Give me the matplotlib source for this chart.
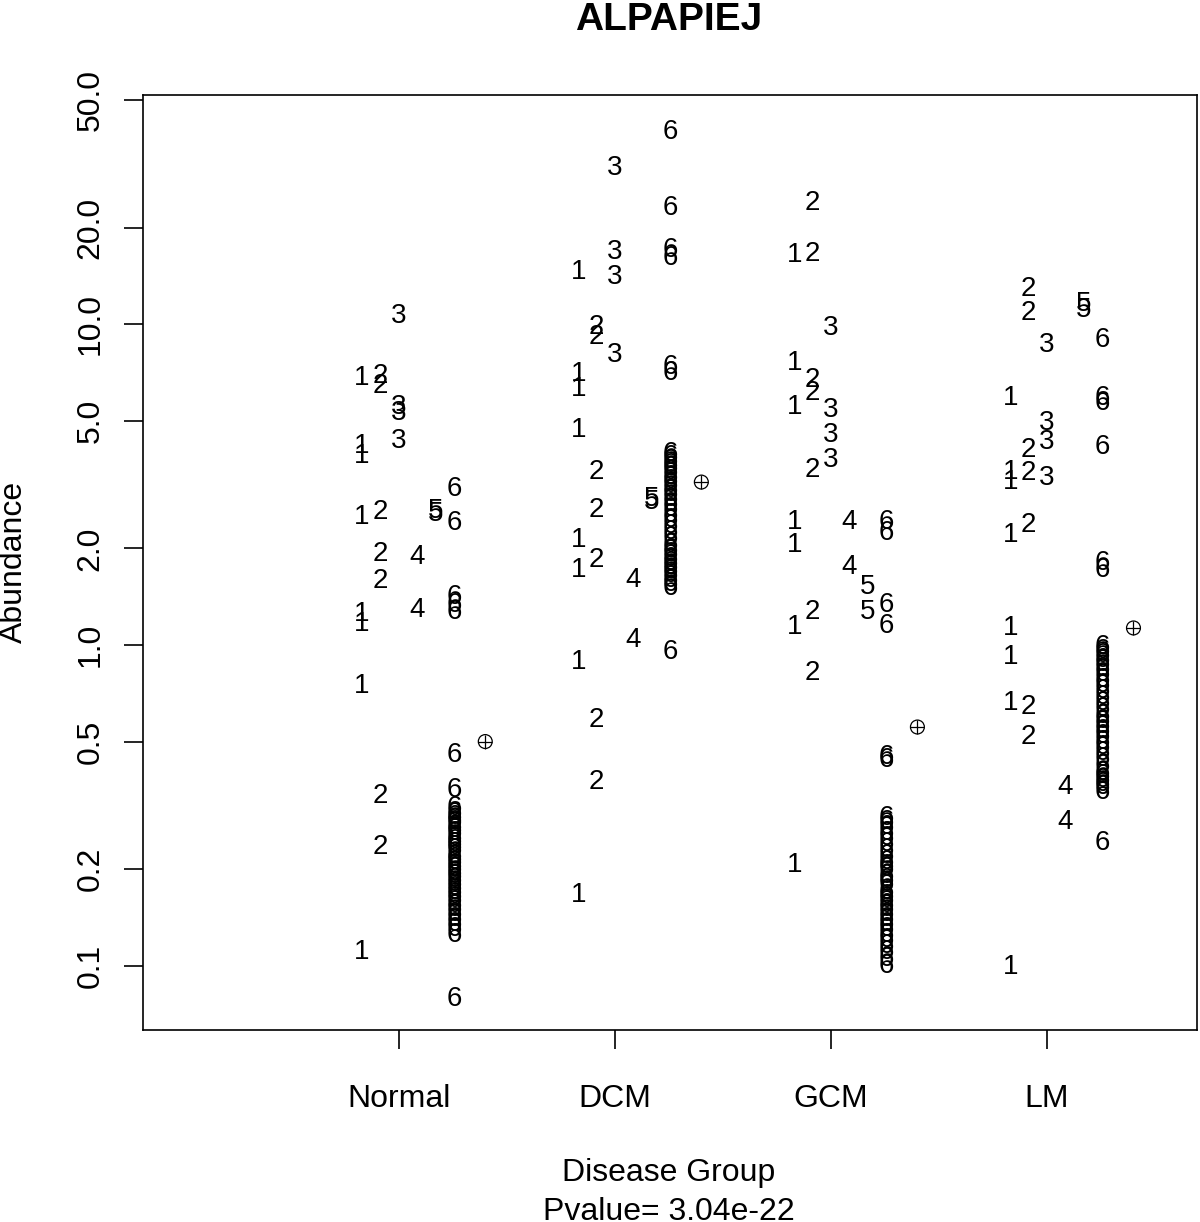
import matplotlib
matplotlib.use("Agg")
import matplotlib.pyplot as plt

plt.rcParams['font.family'] = ['Liberation Sans', 'DejaVu Sans']

groups = ["Normal", "DCM", "GCM", "LM"]

# abundance values per group, one list per label 1..6
normal = [
    [6.79, 4.17, 3.88, 2.50, 1.25, 1.16, 0.745, 0.11],
    [6.88, 6.41, 2.60, 1.92, 1.58, 0.339, 0.235],
    [10.6, 5.51, 5.28, 4.32],
    [1.88, 1.29],
    [2.61, 2.56],
    [3.06, 2.40, 1.41, 1.33, 1.27, 0.454, 0.353,
     0.31, 0.30, 0.29, 0.285, 0.28, 0.27, 0.265, 0.26, 0.25, 0.245, 0.24,
     0.235, 0.23, 0.22, 0.215, 0.21, 0.205, 0.20, 0.195, 0.19, 0.185, 0.18,
     0.175, 0.17, 0.165, 0.16, 0.155, 0.15, 0.145, 0.14, 0.135, 0.13, 0.125,
     0.079],
]
dcm = [
    [14.5, 7.0, 6.3, 4.67, 2.12, 1.71, 0.885, 0.166],
    [9.79, 9.12, 3.46, 2.63, 1.84, 0.584, 0.374],
    [30.6, 16.8, 14.0, 8.0],
    [1.59, 1.04],
    [2.85, 2.80],
    [39.6, 23.1, 17.0, 16.1, 7.35, 7.03,
     3.95, 3.85, 3.75, 3.65, 3.55, 3.45, 3.35, 3.25, 3.15, 3.05, 2.95, 2.85,
     2.75, 2.65, 2.55, 2.45, 2.35, 2.25, 2.15, 2.05, 1.98, 1.92, 1.86, 1.80,
     1.75, 1.70, 1.65, 1.60, 1.55, 1.51, 0.95],
]
gcm = [
    [16.4, 7.56, 5.51, 2.42, 2.05, 1.14, 0.206],
    [23.8, 16.6, 6.69, 6.10, 3.51, 1.27, 0.818],
    [9.72, 5.40, 4.51, 3.77],
    [2.42, 1.75],
    [1.52, 1.27],
    [2.42, 2.23, 1.33, 1.15, 0.448, 0.438,
     0.289, 0.28, 0.27, 0.26, 0.25, 0.24, 0.23, 0.22, 0.21, 0.205, 0.20,
     0.19, 0.185, 0.18, 0.17, 0.165, 0.16, 0.155, 0.15, 0.145, 0.14, 0.135,
     0.13, 0.125, 0.12, 0.115, 0.11, 0.105, 0.10],
]
lm = [
    [5.88, 3.46, 3.22, 2.20, 1.13, 0.918, 0.659, 0.099],
    [12.9, 10.8, 4.05, 3.43, 2.36, 0.641, 0.517],
    [8.6, 4.92, 4.29, 3.31],
    [0.361, 0.281],
    [11.6, 11.1],
    [8.91, 5.88, 5.67, 4.14, 1.80, 1.71,
     0.986, 0.96, 0.93, 0.90, 0.87, 0.84, 0.81, 0.78, 0.75, 0.72, 0.69,
     0.66, 0.63, 0.60, 0.58, 0.56, 0.54, 0.52, 0.50, 0.48, 0.46, 0.44,
     0.42, 0.40, 0.39, 0.38, 0.37, 0.36, 0.348, 0.242],
]
group_means = [0.50, 3.22, 0.555, 1.13]
pvalue = "3.04e-22"

yticks = [0.1, 0.2, 0.5, 1, 2, 5, 10, 20, 50]
ytick_labels = ["0.1", "0.2", "0.5", "1.0", "2.0", "5.0", "10.0", "20.0", "50.0"]

fig = plt.figure(figsize=(12, 12.22), dpi=100)
ax = fig.add_axes([0.119, 0.157, 0.8785, 0.765])

step = 0.085
for gi, series in enumerate([normal, dcm, gcm, lm]):
    center = gi + 1
    for k, vals in enumerate(series):
        x = center + (k - 2) * step
        for v in vals:
            ax.text(x, v, str(k + 1), ha="center", va="center", fontsize=20)
    ax.scatter([center + 0.40], [group_means[gi]], s=100, facecolors="none",
               edgecolors="black", linewidths=0.9, zorder=3)
    ax.scatter([center + 0.40], [group_means[gi]], s=100, marker="+",
               color="black", linewidths=0.9, zorder=3)

ax.set_yscale("log")
ax.set_ylim(0.063, 51.7)
ax.set_xlim(-0.185, 4.694)
ax.set_yticks(yticks)
ax.set_yticklabels(ytick_labels, rotation=90, va="center", fontsize=23)
ax.yaxis.set_minor_locator(matplotlib.ticker.NullLocator())
ax.set_xticks([1, 2, 3, 4])
ax.set_xticklabels(groups, fontsize=23)
ax.tick_params(axis="both", direction="out", length=14, width=1.2)
ax.tick_params(axis="y", pad=13)
ax.tick_params(axis="x", pad=25)
for s in ax.spines.values():
    s.set_linewidth(1.2)

fig.text(0.012, 0.54, "Abundance", ha="center", va="center", rotation=90,
         fontsize=23)
fig.text(0.557, 0.040, "Disease Group", ha="center", va="center", fontsize=23)
fig.text(0.557, 0.008, "Pvalue= " + pvalue, ha="center", va="center", fontsize=23)
fig.text(0.557, 0.984, "ALPAPIEJ", ha="center", va="center", fontsize=28,
         fontweight="bold")

fig.savefig("out.png", dpi=100)
